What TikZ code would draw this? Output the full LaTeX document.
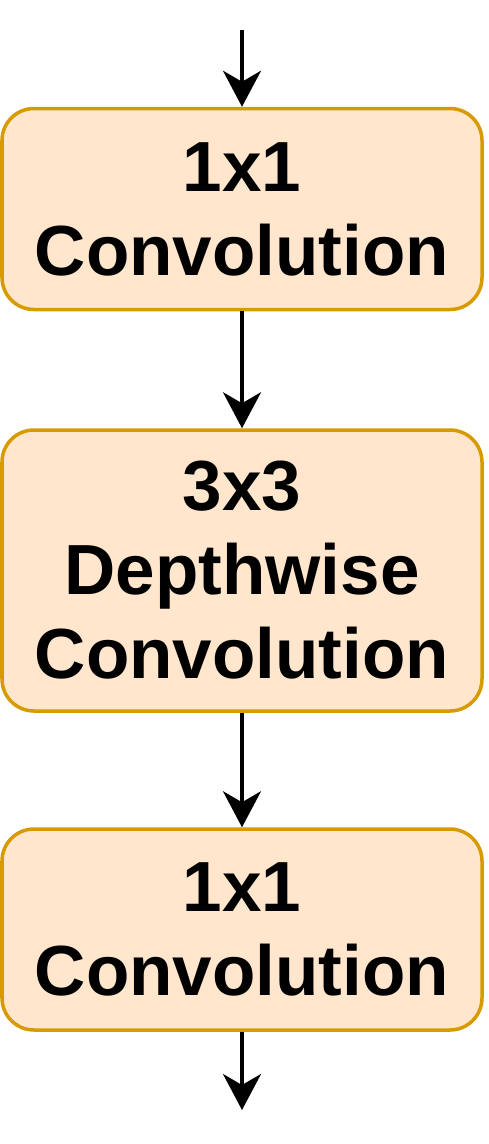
\documentclass[tikz,border=0pt]{standalone}
\usepackage{fontspec}
\setmainfont{Liberation Sans}
\usetikzlibrary{arrows.meta}
\definecolor{boxfill}{HTML}{FFE6CC}
\definecolor{boxline}{HTML}{D79B00}
\begin{document}
\begin{tikzpicture}[x=1pt,y=-1pt,
  convbox/.style={draw=boxline,fill=boxfill,line width=3.5pt,rounded corners=32pt,
    minimum width=480pt,align=center,inner sep=0pt,
    font=\fontsize{71}{84}\selectfont\bfseries},
  flow/.style={line width=3.2pt,-{Stealth[length=36pt,width=38pt,inset=11pt]}}]
\useasboundingbox (0,0) rectangle (488,1144);
\node[convbox,minimum height=201pt] (b1) at (242,209) {1x1\\Convolution};
\node[convbox,minimum height=281pt] (b2) at (242,570.5) {3x3\\Depthwise\\Convolution};
\node[convbox,minimum height=201pt] (b3) at (242,929.5) {1x1\\Convolution};
\coordinate (in) at (242,30);
\coordinate (out) at (242,1110);
\draw[flow] (in) -- (b1.north);
\draw[flow] (b1) -- (b2);
\draw[flow] (b2) -- (b3);
\draw[flow] (b3.south) -- (out);
\end{tikzpicture}
\end{document}
